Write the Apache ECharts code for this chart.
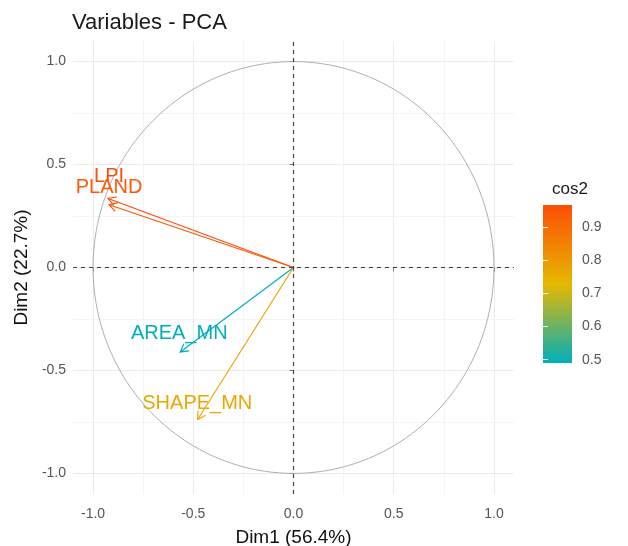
<!DOCTYPE html>
<html>
<head>
<meta charset="utf-8" />
<title>Variables - PCA</title>
<style>
  html, body { margin: 0; padding: 0; background: #ffffff; }
  #pca { width: 628px; height: 546px; }
</style>
</head>
<body>
<div id="pca"></div>
<script src="https://cdn.jsdelivr.net/npm/echarts@6/dist/echarts.min.js"></script>
<script>
// variable coordinates on Dim1 / Dim2 and their cos2
var var_names = ["LPI", "PLAND", "AREA_MN", "SHAPE_MN"];
var dim1 = [-0.925, -0.92, -0.565, -0.478];
var dim2 = [0.335, 0.305, -0.41, -0.738];
var cos2 = [0.968, 0.94, 0.49, 0.77];
// where the (repelled) labels sit
var label_x = [-0.92, -0.92, -0.57, -0.48];
var label_y = [0.44, 0.39, -0.32, -0.66];
// axis ticks
var major_ticks = [-1, -0.5, 0, 0.5, 1];
var minor_ticks = [-0.75, -0.25, 0.25, 0.75];
var cos2_ticks = [0.5, 0.6, 0.7, 0.8, 0.9];
var grad_cols = ["#00AFBB", "#E7B800", "#FC4E07"];

var FONT = "Liberation Sans, Arial, sans-serif";
var cos2_min = Math.min.apply(null, cos2);
var cos2_max = Math.max.apply(null, cos2);

var arrow_data = [];
var label_data = [];
for (var i = 0; i < var_names.length; i++) {
  arrow_data.push([dim1[i], dim2[i], cos2[i]]);
  label_data.push([label_x[i], label_y[i], cos2[i]]);
}

function renderArrow(params, api) {
  var p0 = api.coord([0, 0]);
  var p1 = api.coord([api.value(0), api.value(1)]);
  var col = api.visual("color");
  var ang = Math.atan2(p1[1] - p0[1], p1[0] - p0[0]);
  var len = 9, sp = Math.PI / 6;
  var w1 = [p1[0] - len * Math.cos(ang - sp), p1[1] - len * Math.sin(ang - sp)];
  var w2 = [p1[0] - len * Math.cos(ang + sp), p1[1] - len * Math.sin(ang + sp)];
  return {
    type: "group",
    children: [
      { type: "line", shape: { x1: p0[0], y1: p0[1], x2: p1[0], y2: p1[1] },
        style: { stroke: col, lineWidth: 1.2 } },
      { type: "polyline", shape: { points: [w1, p1, w2] },
        style: { stroke: col, fill: null, lineWidth: 1.2 } }
    ]
  };
}

function renderLabel(params, api) {
  var p = api.coord([api.value(0), api.value(1)]);
  return {
    type: "text",
    x: p[0], y: p[1],
    style: {
      text: var_names[params.dataIndex],
      fill: api.visual("color"),
      font: "20px " + FONT,
      align: "center",
      verticalAlign: "middle"
    }
  };
}

// unit circle of correlations
function renderCircle(params, api) {
  var pts = [];
  for (var k = 0; k <= 360; k += 2) {
    var t = k * Math.PI / 180;
    pts.push(api.coord([Math.cos(t), Math.sin(t)]));
  }
  return { type: "polyline", shape: { points: pts },
    style: { stroke: "#a6a6a6", fill: null, lineWidth: 0.9 } };
}

// colour bar of the legend
function renderBar(params, api) {
  var top = api.coord([0, api.value(2)]);
  var bot = api.coord([1, api.value(1)]);
  var stops = grad_cols.map(function (c, j) {
    return { offset: j / (grad_cols.length - 1), color: c };
  });
  return {
    type: "rect",
    shape: { x: top[0], y: top[1], width: bot[0] - top[0], height: bot[1] - top[1] },
    style: { fill: new echarts.graphic.LinearGradient(0, 1, 0, 0, stops) }
  };
}

var chart = echarts.init(document.getElementById("pca"));
var axisLbl = { color: "#555555", fontSize: 14, fontFamily: FONT };

chart.setOption({
  backgroundColor: "#ffffff",
  animation: false,
  title: [
    { text: "Variables - PCA", left: 67, top: 7,
      textStyle: { fontSize: 22, fontWeight: "normal", color: "#1a1a1a", fontFamily: FONT } },
    { text: "cos2", left: 547, top: 176,
      textStyle: { fontSize: 17, fontWeight: "normal", color: "#1a1a1a", fontFamily: FONT } }
  ],
  grid: [
    { left: 73, right: 114, top: 41, bottom: 52, outerBoundsMode: "none", containLabel: false },
    { left: 543, width: 29, top: 205, height: 158, outerBoundsMode: "none", containLabel: false }
  ],
  visualMap: {
    show: false,
    type: "continuous",
    seriesIndex: [1, 2],
    dimension: 2,
    min: cos2_min,
    max: cos2_max,
    inRange: { color: grad_cols }
  },
  xAxis: [
    {
      type: "value", gridIndex: 0, min: -1.1, max: 1.1,
      name: "Dim1 (56.4%)", nameLocation: "middle", nameGap: 34,
      nameTextStyle: { fontSize: 19, color: "#111111", fontFamily: FONT },
      axisLine: { show: false },
      axisTick: { show: true, length: 4, customValues: major_ticks, lineStyle: { color: "#777777" } },
      axisLabel: Object.assign({ customValues: major_ticks, margin: 13,
        formatter: function (v) { return v.toFixed(1); } }, axisLbl),
      splitLine: { show: true, lineStyle: { color: "#ebebeb", width: 1 } }
    },
    {
      type: "value", gridIndex: 0, min: -1.1, max: 1.1,
      axisLine: { show: false }, axisLabel: { show: false },
      axisTick: { show: false, customValues: minor_ticks },
      splitLine: { show: true, lineStyle: { color: "#f4f4f4", width: 1 } }
    },
    {
      type: "value", gridIndex: 1, min: 0, max: 1, show: false
    }
  ],
  yAxis: [
    {
      type: "value", gridIndex: 0, min: -1.1, max: 1.1,
      name: "Dim2 (22.7%)", nameLocation: "middle", nameGap: 40,
      nameTextStyle: { fontSize: 19, color: "#111111", fontFamily: FONT },
      axisLine: { show: false },
      axisTick: { show: true, length: 4, customValues: major_ticks, lineStyle: { color: "#777777" } },
      axisLabel: Object.assign({ customValues: major_ticks, margin: 7,
        formatter: function (v) { return v.toFixed(1); } }, axisLbl),
      splitLine: { show: true, lineStyle: { color: "#ebebeb", width: 1 } }
    },
    {
      type: "value", gridIndex: 0, min: -1.1, max: 1.1,
      axisLine: { show: false }, axisLabel: { show: false },
      axisTick: { show: false, customValues: minor_ticks },
      splitLine: { show: true, lineStyle: { color: "#f4f4f4", width: 1 } }
    },
    {
      type: "value", gridIndex: 1, min: cos2_min, max: cos2_max, position: "right",
      axisLine: { show: false },
      axisTick: { show: true, inside: true, length: 5, customValues: cos2_ticks,
        lineStyle: { color: "#ffffff", width: 1 } },
      axisLabel: Object.assign({ customValues: cos2_ticks, margin: 10,
        formatter: function (v) { return v.toFixed(1); } }, axisLbl),
      splitLine: { show: false }
    },
    {
      type: "value", gridIndex: 1, min: cos2_min, max: cos2_max, position: "left",
      axisLine: { show: false }, axisLabel: { show: false },
      axisTick: { show: true, inside: true, length: 5, customValues: cos2_ticks,
        lineStyle: { color: "#ffffff", width: 1 } },
      splitLine: { show: false }, z: 5
    }
  ],
  series: [
    {
      type: "custom", name: "circle", xAxisIndex: 0, yAxisIndex: 0,
      renderItem: renderCircle, data: [[0, 0]], silent: true, z: 2,
      markLine: {
        silent: true, symbol: "none", animation: false,
        label: { show: false },
        lineStyle: { color: "#444444", type: [4, 4], width: 1.2 },
        data: [{ xAxis: 0 }, { yAxis: 0 }]
      }
    },
    {
      type: "custom", name: "arrows", xAxisIndex: 0, yAxisIndex: 0,
      renderItem: renderArrow, data: arrow_data, encode: { x: 0, y: 1 }, z: 4
    },
    {
      type: "custom", name: "labels", xAxisIndex: 0, yAxisIndex: 0,
      renderItem: renderLabel, data: label_data, encode: { x: 0, y: 1 }, z: 5
    },
    {
      type: "custom", name: "colorbar", xAxisIndex: 2, yAxisIndex: 2,
      renderItem: renderBar, data: [[0, cos2_min, cos2_max]], silent: true, z: 1
    }
  ]
});
</script>
</body>
</html>
